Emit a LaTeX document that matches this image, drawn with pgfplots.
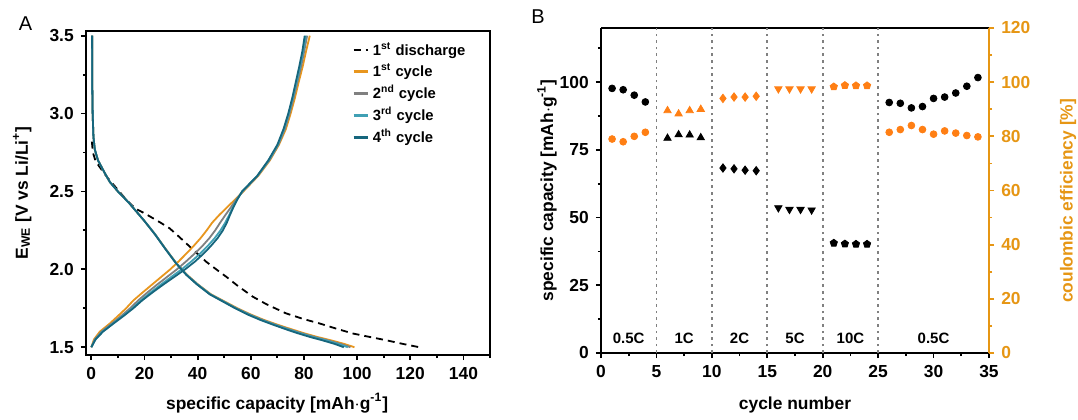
\documentclass[border=0pt]{standalone}
\usepackage{fontspec}
\setmainfont{Liberation Sans}
\newfontfamily\tickfont{Liberation Sans Bold}
\usepackage{pgfplots}
\pgfplotsset{compat=1.18}

\definecolor{cyc1}{RGB}{232,150,30}
\definecolor{cyc2}{RGB}{128,128,128}
\definecolor{cyc3}{RGB}{64,160,180}
\definecolor{cyc4}{RGB}{22,102,125}
\definecolor{axorange}{RGB}{230,150,20}
\definecolor{mkorange}{RGB}{255,127,20}

\newcommand{\lblfont}{\bfseries\fontsize{8.7}{9}\selectfont}
\newcommand{\tk}[1]{\mbox{\tickfont\fontsize{8.7}{9}\selectfont #1}}

\pgfplotsset{
  panel/.style={
    scale only axis,
    anchor=south west,
    axis line style={line width=1.1pt},
    major tick length=2.6pt,
    minor tick length=1.6pt,
    every tick/.style={line width=0.9pt, black},
    tick align=outside,
    xticklabel style={font=\tickfont\fontsize{8.7}{9}\selectfont},
    yticklabel style={font=\tickfont\fontsize{8.7}{9}\selectfont},
    xlabel style={font=\lblfont},
    ylabel style={font=\lblfont},
  },
}

\begin{document}
\begin{tikzpicture}[font=\lblfont]
\path[use as bounding box] (0,0) rectangle (539pt,209.5pt);

% ---------------- panel A ----------------
\begin{axis}[panel,
  at={(43pt,32pt)}, width=202pt, height=162pt,
  xmin=-2, xmax=150, ymin=1.45, ymax=3.53,
  xtick={0,20,...,140}, minor xtick={10,30,...,150},
  xticklabels={\tk{0},\tk{20},\tk{40},\tk{60},\tk{80},\tk{100},\tk{120},\tk{140}},
  ytick={1.5,2,2.5,3,3.5}, minor ytick={1.75,2.25,2.75,3.25},
  yticklabels={\tk{1.5},\tk{2.0},\tk{2.5},\tk{3.0},\tk{3.5}},
  xtick pos=bottom, ytick pos=left,
  xlabel={specific capacity [mAh$\cdot$g\textsuperscript{-1}]},
  ylabel={E\textsubscript{WE} [V vs Li/Li\textsuperscript{+}]},
  xlabel style={at={(axis description cs:0.473,-0.148)}, anchor=center},
  ylabel style={at={(axis description cs:-0.158,0.5)}, rotate=0, anchor=center},
  legend style={at={(axis description cs:0.955,0.985)}, anchor=north east,
    draw=none, fill=none, font=\bfseries\fontsize{7.4}{8}\selectfont,
    row sep=-1.2pt, inner sep=1pt},
  legend cell align=left,
  legend image code/.code={\draw[#1, line width=1.3pt] (0pt,0pt) -- (7pt,0pt);},
]
% 1st discharge (dashed)
\addplot[black, line width=0.9pt, dash pattern=on 3.5pt off 2.5pt] coordinates {
(0.2,2.82)(0.6,2.75)(1.5,2.70)(3,2.66)(6,2.59)(10,2.51)(13,2.45)(15,2.415)(17,2.386)
(20,2.36)(23,2.33)(26,2.30)(29.4,2.264)(32,2.225)(35.7,2.167)(39,2.115)(43.2,2.049)
(47,2.0)(50.8,1.952)(55,1.895)(60.8,1.824)(66,1.775)(73.3,1.717)(80,1.68)(85.8,1.653)
(92,1.62)(98.4,1.588)(105,1.565)(110.9,1.545)(117,1.522)(123.4,1.5)};
\addlegendentry{1\textsuperscript{st} discharge}

% cycle 1
\addplot[cyc1, line width=0.9pt] coordinates {
(0.3,3.5)(0.35,3.2)(0.5,3.0)(0.8,2.85)(1.3,2.77)(2.5,2.70)(5,2.62)(7,2.56)(10,2.50)
(14,2.43)(17,2.37)(20,2.31)(24,2.225)(28,2.13)(32,2.04)(36,1.965)(40,1.905)(45,1.84)
(50,1.795)(55,1.75)(60,1.71)(65,1.675)(70,1.645)(75,1.617)(80,1.59)(85,1.566)(90,1.545)
(95,1.522)(99,1.5)};
\addlegendentry{1\textsuperscript{st} cycle}
\addplot[cyc1, line width=0.9pt, forget plot] coordinates {
(0,1.5)(1.0,1.55)(3.2,1.6)(6.8,1.65)(10.0,1.7)(13.1,1.75)(15.8,1.8)(19.2,1.85)(22.7,1.9)
(26.2,1.95)(29.7,2.0)(32.8,2.05)(35.7,2.1)(38.5,2.15)(41.1,2.2)(43.4,2.25)(45.5,2.3)
(48.2,2.35)(51.2,2.4)(54.2,2.45)(57.2,2.5)(62.8,2.6)(67.2,2.7)(70.6,2.8)(73.2,2.9)(75.0,3.0)
(76.6,3.1)(78.0,3.2)(79.5,3.3)(80.8,3.4)(82.2,3.5)};

% cycle 2
\addplot[cyc2, line width=0.9pt] coordinates {
(0.3,3.5)(0.35,3.2)(0.5,3.0)(0.8,2.85)(1.3,2.77)(2.5,2.70)(5,2.62)(7,2.56)(10,2.50)
(14,2.43)(17,2.37)(20,2.31)(24,2.225)(28,2.13)(31.9,2.04)(35.9,1.965)(39.9,1.905)
(44.8,1.84)(49.7,1.795)(54.6,1.75)(59.6,1.71)(64.5,1.675)(69.3,1.645)(74.2,1.617)(79.1,1.59)
(84,1.566)(88.8,1.545)(93.6,1.522)(97.5,1.5)};
\addlegendentry{2\textsuperscript{nd} cycle}
\addplot[cyc2, line width=0.9pt, forget plot] coordinates {
(0,1.5)(1.3,1.55)(3.8,1.6)(7.5,1.65)(11.2,1.7)(14.6,1.75)(17.6,1.8)(21,1.85)(24.6,1.9)
(28.4,1.95)(32.2,2.0)(35.6,2.05)(38.8,2.1)(41.8,2.15)(44.4,2.2)(46.6,2.25)(48.5,2.3)
(50.5,2.35)(52.6,2.4)(54.6,2.45)(57.0,2.5)(62.6,2.6)(67.0,2.7)(70.4,2.8)(72.8,2.9)(74.6,3.0)
(76.1,3.1)(77.5,3.2)(78.9,3.3)(80.1,3.4)(81.2,3.5)};

% cycle 3
\addplot[cyc3, line width=0.9pt] coordinates {
(0.3,3.5)(0.35,3.2)(0.5,3.0)(0.8,2.85)(1.3,2.77)(2.5,2.70)(5,2.62)(7,2.56)(10,2.50)
(14,2.43)(17,2.37)(20,2.31)(24,2.225)(27.9,2.13)(31.9,2.04)(35.8,1.965)(39.8,1.905)
(44.7,1.84)(49.6,1.795)(54.4,1.75)(59.3,1.71)(64.1,1.675)(68.9,1.645)(73.7,1.617)(78.5,1.59)
(83.3,1.566)(88,1.545)(92.7,1.522)(96.5,1.5)};
\addlegendentry{3\textsuperscript{rd} cycle}
\addplot[cyc3, line width=0.9pt, forget plot] coordinates {
(0,1.5)(1.5,1.55)(4.2,1.6)(8.0,1.65)(11.8,1.7)(15.4,1.75)(18.6,1.8)(22.2,1.85)(26,1.9)
(30,1.95)(34,2.0)(37.6,2.05)(40.9,2.1)(43.8,2.15)(46.4,2.2)(48.6,2.25)(50.4,2.3)(51.9,2.35)
(53.3,2.4)(54.9,2.45)(56.8,2.5)(62.5,2.6)(66.8,2.7)(70.2,2.8)(72.5,2.9)(74.3,3.0)(75.8,3.1)
(77.2,3.2)(78.5,3.3)(79.7,3.4)(80.7,3.5)};

% cycle 4
\addplot[cyc4, line width=0.9pt] coordinates {
(0.3,3.5)(0.35,3.2)(0.5,3.0)(0.8,2.85)(1.3,2.77)(2.5,2.70)(5,2.62)(7,2.56)(10,2.50)
(14,2.43)(17,2.37)(20,2.31)(23.9,2.225)(27.9,2.13)(31.8,2.04)(35.7,1.965)(39.6,1.905)
(44.5,1.84)(49.3,1.795)(54.1,1.75)(58.8,1.71)(63.6,1.675)(68.3,1.645)(72.9,1.617)(77.6,1.59)
(82.2,1.566)(86.8,1.545)(91.4,1.522)(95.0,1.5)};
\addlegendentry{4\textsuperscript{th} cycle}
\addplot[cyc4, line width=0.9pt, forget plot] coordinates {
(0,1.5)(1.6,1.55)(4.4,1.6)(8.2,1.65)(12.1,1.7)(15.8,1.75)(19.1,1.8)(22.9,1.85)(26.9,1.9)
(31.1,1.95)(35.3,2.0)(39,2.05)(42.2,2.1)(45.0,2.15)(47.5,2.2)(49.5,2.25)(51.0,2.3)(52.2,2.35)
(53.5,2.4)(55.0,2.45)(56.7,2.5)(62.4,2.6)(66.6,2.7)(70.0,2.8)(72.3,2.9)(74.1,3.0)(75.6,3.1)
(76.9,3.2)(78.2,3.3)(79.4,3.4)(80.3,3.5)};
\end{axis}

% ---------------- panel B, left axis ----------------
\begin{axis}[panel,
  at={(300.5pt,33pt)}, width=194pt, height=162.5pt,
  xmin=0, xmax=35, ymin=0, ymax=120,
  axis y line*=left,
  xtick={0,5,...,35}, minor xtick={2.5,7.5,...,32.5},
  xticklabels={\tk{0},\tk{5},\tk{10},\tk{15},\tk{20},\tk{25},\tk{30},\tk{35}},
  ytick={0,25,...,100}, minor ytick={12.5,37.5,62.5,87.5,112.5},
  yticklabels={\tk{0},\tk{25},\tk{50},\tk{75},\tk{100}},
  xtick pos=bottom,
  xlabel={cycle number},
  ylabel={specific capacity [mAh$\cdot$g\textsuperscript{-1}]},
  xlabel style={at={(axis description cs:0.5,-0.16)}, anchor=center},
  ylabel style={at={(axis description cs:-0.139,0.5)}, rotate=0, anchor=center},
  clip=false,
]
% rate dividers
\addplot[gray, line width=0.9pt, dash pattern=on 1.3pt off 2pt] coordinates {(5,0)(5,120)};
\addplot[gray, line width=0.9pt, dash pattern=on 1.3pt off 2pt] coordinates {(10,0)(10,120)};
\addplot[gray, line width=0.9pt, dash pattern=on 1.3pt off 2pt] coordinates {(15,0)(15,120)};
\addplot[gray, line width=0.9pt, dash pattern=on 1.3pt off 2pt] coordinates {(20,0)(20,120)};
\addplot[gray, line width=0.9pt, dash pattern=on 1.3pt off 2pt] coordinates {(25,0)(25,120)};

% specific capacity
\addplot[only marks, mark=*, mark size=1.7pt, black] coordinates {
(1,97.7)(2,97.2)(3,95.2)(4,92.7)};
\addplot[only marks, mark=triangle*, mark size=2.1pt, black] coordinates {
(6,79.3)(7,80.6)(8,80.5)(9,79.5)};
\addplot[only marks, mark=diamond*, mark size=2.1pt, black] coordinates {
(11,68.3)(12,68.0)(13,67.5)(14,67.3)};
\addplot[only marks, mark=triangle*, mark size=2.1pt, mark options={rotate=180}, black] coordinates {
(16,53.6)(17,53.0)(18,53.0)(19,52.8)};
\addplot[only marks, mark=pentagon*, mark size=1.9pt, black] coordinates {
(21,40.6)(22,40.3)(23,40.2)(24,40.2)};
\addplot[only marks, mark=*, mark size=1.7pt, black] coordinates {
(26,92.5)(27,92.2)(28,90.5)(29,91.0)(30,94.0)(31,94.5)(32,96.0)(33,98.5)(34,101.7)};

\node[font=\bfseries\fontsize{7.5}{8}\selectfont] at (axis cs:2.5,5.5) {0.5C};
\node[font=\bfseries\fontsize{7.5}{8}\selectfont] at (axis cs:7.5,5.5) {1C};
\node[font=\bfseries\fontsize{7.5}{8}\selectfont] at (axis cs:12.5,5.5) {2C};
\node[font=\bfseries\fontsize{7.5}{8}\selectfont] at (axis cs:17.5,5.5) {5C};
\node[font=\bfseries\fontsize{7.5}{8}\selectfont] at (axis cs:22.5,5.5) {10C};
\node[font=\bfseries\fontsize{7.5}{8}\selectfont] at (axis cs:30,5.5) {0.5C};
\end{axis}

% ---------------- panel B, right axis ----------------
\begin{axis}[panel,
  at={(300.5pt,33pt)}, width=194pt, height=162.5pt,
  xmin=0, xmax=35, ymin=0, ymax=120,
  axis x line=none, axis y line*=right,
  y axis line style={axorange, line width=1.1pt},
  every tick/.style={line width=0.9pt, axorange},
  ytick={0,20,...,120}, minor ytick={10,30,...,110},
  yticklabels={\tk{0},\tk{20},\tk{40},\tk{60},\tk{80},\tk{100},\tk{120}},
  yticklabel style={text=axorange},
  ylabel={coulombic efficiency [\%]},
  ylabel style={text=axorange, at={(axis description cs:1.204,0.468)}, rotate=0, anchor=center},
]
\addplot[only marks, mark=*, mark size=1.7pt, mkorange] coordinates {
(1,79.0)(2,78.0)(3,80.0)(4,81.5)};
\addplot[only marks, mark=triangle*, mark size=2.1pt, mkorange] coordinates {
(6,89.5)(7,88.3)(8,89.5)(9,90.0)};
\addplot[only marks, mark=diamond*, mark size=2.1pt, mkorange] coordinates {
(11,94.0)(12,94.5)(13,94.5)(14,94.8)};
\addplot[only marks, mark=triangle*, mark size=2.1pt, mark options={rotate=180}, mkorange] coordinates {
(16,97.5)(17,97.5)(18,97.5)(19,97.5)};
\addplot[only marks, mark=pentagon*, mark size=1.9pt, mkorange] coordinates {
(21,98.3)(22,98.8)(23,98.7)(24,98.7)};
\addplot[only marks, mark=*, mark size=1.7pt, mkorange] coordinates {
(26,81.5)(27,82.5)(28,84.0)(29,82.5)(30,80.8)(31,82.0)(32,81.2)(33,80.3)(34,79.8)};
\end{axis}

\node[font=\mdseries\fontsize{10}{12}\selectfont] at (12.75pt,197.75pt) {A};
\node[font=\mdseries\fontsize{10}{12}\selectfont] at (269pt,201pt) {B};
\end{tikzpicture}
\end{document}
